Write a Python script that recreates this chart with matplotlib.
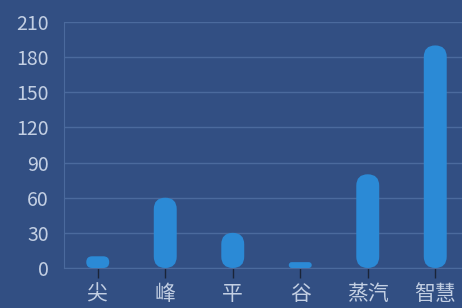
import matplotlib
matplotlib.use("Agg")
import matplotlib.pyplot as plt
from matplotlib.patches import FancyBboxPatch

plt.rcParams['font.family'] = ['Noto Sans CJK SC', 'DejaVu Sans']

# data
categories = ['尖', '峰', '平', '谷', '蒸汽', '智慧']
values = [10, 60, 30, 5, 80, 190]
y_ticks = [0, 30, 60, 90, 120, 150, 180, 210]

bg = '#324f83'
bar_color = '#2b8ad6'
text_color = '#c3cfe3'
grid_color = '#4b6a9d'

fig = plt.figure(figsize=(4.62, 3.08), dpi=100)
fig.patch.set_facecolor(bg)
# axes runs slightly past the right edge, like the cropped original
ax = fig.add_axes([64 / 462, 40 / 308, 405 / 462, 246 / 308])
ax.set_facecolor(bg)

ax.set_xlim(-0.5, len(categories) - 0.5)
ax.set_ylim(0, 210)

# bar shape: capsule, rounding kept circular on screen
bar_w = 0.34
x_px = 405 / len(categories)
y_px = 246 / 210
aspect = x_px / y_px
for i, v in enumerate(values):
    r = min(bar_w / 2, v / aspect / 2)
    p = FancyBboxPatch((i - bar_w / 2, 0), bar_w, v,
                       boxstyle=f"round,pad=0,rounding_size={r}",
                       mutation_aspect=aspect,
                       facecolor=bar_color, edgecolor='none', zorder=3)
    ax.add_patch(p)

ax.set_yticks(y_ticks)
ax.set_yticklabels([str(t) for t in y_ticks])
ax.set_xticks(range(len(categories)))
ax.set_xticklabels(categories)
ax.yaxis.grid(True, color=grid_color, linewidth=1)
ax.set_axisbelow(True)

ax.tick_params(axis='y', length=0, pad=11, labelsize=14, labelcolor=text_color)
ax.tick_params(axis='x', length=7, width=1, color='#1a2438', pad=4,
               labelsize=15, labelcolor=text_color)

for s in ['top', 'right']:
    ax.spines[s].set_visible(False)
ax.spines['left'].set_color(grid_color)
ax.spines['bottom'].set_color(grid_color)

plt.savefig('out.png', dpi=100, facecolor=bg)
